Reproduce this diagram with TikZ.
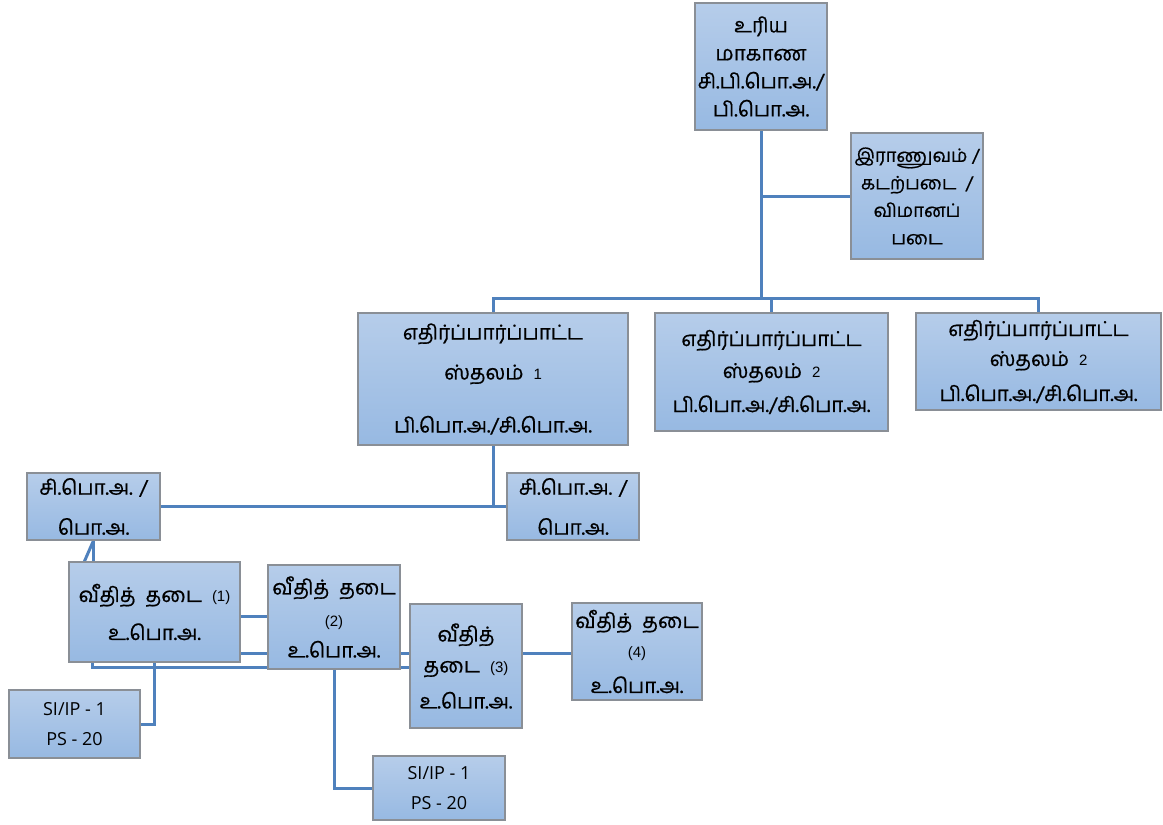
\documentclass[tikz,border=0pt]{standalone}
\usepackage{fontspec}
\usetikzlibrary{backgrounds}
\newfontfamily\tam[Script=Tamil,FakeBold=0.6]{Hind Madurai}
\newfontfamily\num{Liberation Sans}
\newfontfamily\lat{Open Sans}
\definecolor{boxtop}{HTML}{B6CDEA}
\definecolor{boxbot}{HTML}{97B9E2}
\definecolor{boxline}{HTML}{8A8F96}
\definecolor{conn}{HTML}{4F81BD}
\tikzset{
  box/.style={draw=boxline, line width=1.2pt, top color=boxtop, bottom color=boxbot,
    inner sep=0pt, align=center, font=\tam\fontsize{20.5}{28}\selectfont},
  pbox/.style={box, font=\lat\fontsize{18}{30}\selectfont},
  conline/.style={draw=conn, line width=3pt},
}
\newcommand{\nm}[1]{{\num\fontsize{15}{16}\selectfont #1}}
\begin{document}
\begin{tikzpicture}[x=1pt,y=-1pt]
\useasboundingbox (0,0) rectangle (1163,825);
\path
  node[box, minimum width=132pt, minimum height=127pt] (top) at (761,66.5)
    {உரிய\\மாகாண\\சி.பி.பொ.அ./\\பி.பொ.அ.}
  node[box, minimum width=132pt, minimum height=126pt, font=\tam\fontsize{18.5}{27.5}\selectfont] (mil) at (917,196)
    {இராணுவம் /\\கடற்படை~~/\\விமானப்\\படை}
  node[box, minimum width=270pt, minimum height=132pt] (s1) at (493,379)
    {எதிர்ப்பார்ப்பாட்ட\\[12pt]ஸ்தலம்~ \nm{1}\\[25pt]பி.பொ.அ./சி.பொ.அ.}
  node[box, minimum width=233pt, minimum height=118pt] (s2) at (771.5,372)
    {எதிர்ப்பார்ப்பாட்ட\\[4pt]ஸ்தலம்~ \nm{2}\\[6pt]பி.பொ.அ./சி.பொ.அ.}
  node[box, minimum width=245pt, minimum height=97pt] (s3) at (1038.5,361.5)
    {எதிர்ப்பார்ப்பாட்ட\\[2pt]ஸ்தலம்~ \nm{2}\\[7pt]பி.பொ.அ./சி.பொ.அ.}
  node[box, minimum width=133pt, minimum height=67pt] (c1) at (93.5,506.5)
    {சி.பொ.அ. /\\[12pt]பொ.அ.}
  node[box, minimum width=132pt, minimum height=67pt] (c2) at (573,506.5)
    {சி.பொ.அ. /\\[12pt]பொ.அ.}
  node[box, minimum width=171pt, minimum height=100pt] (r1) at (154.5,612)
    {வீதித்~ தடை~ \nm{(1)}\\[10pt]உ.பொ.அ.}
  node[box, minimum width=132pt, minimum height=104pt] (r2) at (334,617)
    {வீதித்~ தடை\\[4pt]\nm{(2)}\\[3pt]உ.பொ.அ.}
  node[box, minimum width=112pt, minimum height=124pt] (r3) at (466,666)
    {வீதித்\\[3pt]தடை~ \nm{(3)}\\[8pt]உ.பொ.அ.}
  node[box, minimum width=130pt, minimum height=97pt] (r4) at (637,651.5)
    {வீதித்~ தடை\\[2pt]\nm{(4)}\\[7pt]உ.பொ.அ.}
  node[pbox, minimum width=131pt, minimum height=68pt] (p1) at (74.5,724)
    {SI/IP - 1\\PS - 20}
  node[pbox, minimum width=132pt, minimum height=64pt] (p2) at (439,788)
    {SI/IP - 1\\PS - 20};
\coordinate (bar) at (761,298);
\coordinate (h1) at (0,616);
\coordinate (h2) at (0,653);
\coordinate (h3) at (0,667);
\begin{scope}[on background layer]
  \draw[conline] (top.south) -- (bar);
  \draw[conline] (top.south |- mil.west) -- (mil.west);
  \draw[conline] (s1.north) |- (bar) -| (s3.north);
  \draw[conline] (s2.north) -- (s2.north |- bar);
  \draw[conline] (s1.south) |- (c1.east);
  \draw[conline] (s1.south) |- (c2.west);
  \draw[conline] (c1.south) -- (c1.south |- r1.north);
  \draw[conline] (c1.south) -- ([xshift=16pt]r1.north west);
  \draw[conline] (r1.east |- h1) -- (r2.west |- h1);
  \draw[conline] (r1.east |- h2) -- (r2.west |- h2);
  \draw[conline] (r2.east |- h2) -- (r3.west |- h2);
  \draw[conline] (r3.east |- h2) -- (r4.west |- h2);
  \draw[conline] ([xshift=24pt]r1.south west) |- (r3.west |- h3);
  \draw[conline] (r1.south) |- (p1.east);
  \draw[conline] (r2.south) |- (p2.west);
\end{scope}
\end{tikzpicture}
\end{document}
